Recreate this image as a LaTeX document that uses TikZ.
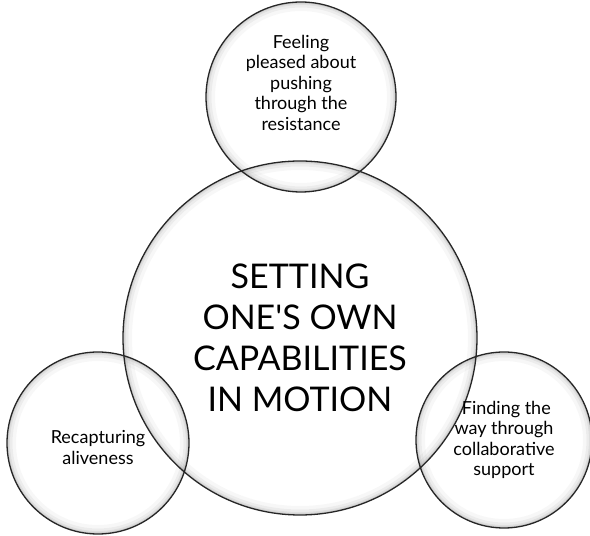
\documentclass[tikz,border=0pt]{standalone}
\usepackage{fontspec}
\setmainfont{Lato}
\usetikzlibrary{positioning}
\tikzset{
	bubble/.style={
		circle,
		minimum size=#1,
		inner sep=0pt,
		draw=black!85,
		line width=1.3pt,
		align=center,
		font=\fontsize{18}{20.5}\selectfont,
		path picture={
			\foreach \w/\o in {18/0.035, 11/0.05, 6/0.07, 3/0.09}
				\draw[line width=\w pt, opacity=\o] (path picture bounding box.center) circle ({#1/2});
		}
	},
	core/.style={
		bubble=#1,
		font=\fontsize{34}{41}\selectfont
	}
}

\begin{document}
\begin{tikzpicture}[x=1pt,y=1pt]
\useasboundingbox (0,0) rectangle (590,536);
\node [core=354] (Capabilities) at (300,198) {SETTING\\ONE\textquotesingle S OWN\\CAPABILITIES\\IN MOTION};
\node [bubble=190] (Pushing) at (301,439) {Feeling\\pleased about\\pushing\\through the\\resistance\\[8pt]};
\node [bubble=182] (Aliveness) at (98,93) {\mbox{}\\[2pt]Recapturing\\aliveness};
\node [bubble=176] (Support) at (504,96) {\ Finding the\\way through\\collaborative\\support};
\end{tikzpicture}
\end{document}
